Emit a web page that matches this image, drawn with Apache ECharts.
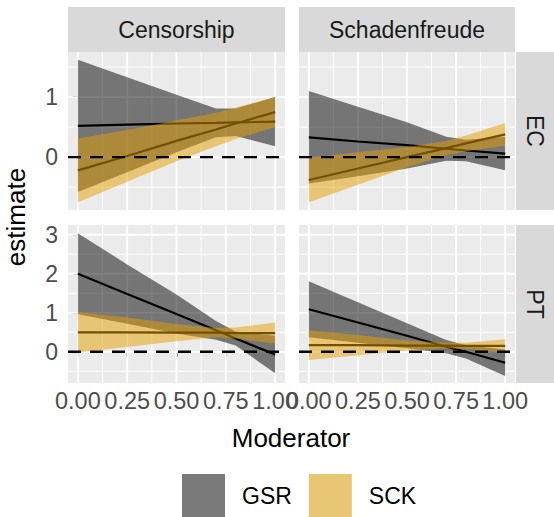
<!DOCTYPE html>
<html><head><meta charset="utf-8">
<script src="https://cdn.jsdelivr.net/npm/echarts@6/dist/echarts.min.js"></script>
<style>html,body{margin:0;padding:0;background:#fff}#c{width:554px;height:517px}</style>
</head><body><div id="c"></div>
<script>
// ---------------- DATA ----------------
const facetCols = ['Censorship', 'Schadenfreude'];
const facetRows = ['EC', 'PT'];
const groups = ['GSR', 'SCK'];
const xLabel = 'Moderator';
const yLabel = 'estimate';

const moderator = [0, 0.25, 0.5, 0.7, 0.8, 1];

// Censorship / EC
const cenEC_GSR_est = [0.52, 0.54, 0.56, 0.57, 0.58, 0.59];
const cenEC_GSR_lo  = [-0.58, -0.25, 0.08, 0.33, 0.35, 0.18];
const cenEC_GSR_hi  = [1.62, 1.33, 1.04, 0.81, 0.81, 1.00];
const cenEC_SCK_est = [-0.22, 0.02, 0.27, 0.46, 0.56, 0.75];
const cenEC_SCK_lo  = [-0.75, -0.41, -0.07, 0.18, 0.30, 0.50];
const cenEC_SCK_hi  = [0.31, 0.45, 0.61, 0.74, 0.82, 1.00];
// Schadenfreude / EC
const schEC_GSR_est = [0.33, 0.26, 0.20, 0.14, 0.11, 0.06];
const schEC_GSR_lo  = [-0.44, -0.32, -0.19, -0.06, -0.07, -0.22];
const schEC_GSR_hi  = [1.10, 0.84, 0.58, 0.34, 0.29, 0.34];
const schEC_SCK_est = [-0.38, -0.19, 0.00, 0.15, 0.23, 0.38];
const schEC_SCK_lo  = [-0.75, -0.46, -0.17, 0.03, 0.10, 0.19];
const schEC_SCK_hi  = [-0.01, 0.08, 0.17, 0.27, 0.36, 0.57];
// Censorship / PT
const cenPT_GSR_est = [2.00, 1.48, 0.97, 0.55, 0.34, -0.07];
const cenPT_GSR_lo  = [0.96, 0.72, 0.47, 0.31, 0.16, -0.55];
const cenPT_GSR_hi  = [3.04, 2.24, 1.47, 0.79, 0.52, 0.41];
const cenPT_SCK_est = [0.50, 0.50, 0.49, 0.49, 0.48, 0.48];
const cenPT_SCK_lo  = [-0.02, 0.12, 0.27, 0.37, 0.34, 0.21];
const cenPT_SCK_hi  = [1.02, 0.88, 0.71, 0.61, 0.62, 0.75];
// Schadenfreude / PT
const schPT_GSR_est = [1.09, 0.75, 0.41, 0.13, 0.00, -0.28];
const schPT_GSR_lo  = [0.37, 0.23, 0.09, -0.04, -0.17, -0.62];
const schPT_GSR_hi  = [1.81, 1.27, 0.73, 0.30, 0.17, 0.06];
const schPT_SCK_est = [0.17, 0.17, 0.16, 0.16, 0.15, 0.15];
const schPT_SCK_lo  = [-0.21, -0.09, 0.03, 0.09, 0.07, -0.02];
const schPT_SCK_hi  = [0.55, 0.43, 0.29, 0.23, 0.23, 0.32];

const referenceY = 0;

const xTicks = [0, 0.25, 0.5, 0.75, 1];
const xMinor = [0.125, 0.375, 0.625, 0.875];
const yTicksEC = [0, 1];
const yMinorEC = [-0.5, 0.5, 1.5];
const yTicksPT = [0, 1, 2, 3];
const yMinorPT = [-0.5, 0.5, 1.5, 2.5];

// ---------------- LAYOUT / STYLE ----------------
const FONT = "'Liberation Sans', Arial, sans-serif";
const grids = [
  {left: 68, top: 52, width: 217, height: 158},
  {left: 299, top: 52, width: 216, height: 158},
  {left: 68, top: 225, width: 217, height: 158},
  {left: 299, top: 225, width: 216, height: 158}
];
const xRange = [-0.05, 1.05];
const yRangeEC = [-0.88, 1.75];
const yRangePT = [-0.80, 3.25];
const GRAY_FILL = 'rgba(0,0,0,0.5)';
const GOLD_FILL = 'rgba(230,159,0,0.5)';

const panels = [
  {g: 0, yr: yRangeEC, ym: yTicksEC, yn: yMinorEC,
   GSR: [cenEC_GSR_est, cenEC_GSR_lo, cenEC_GSR_hi], SCK: [cenEC_SCK_est, cenEC_SCK_lo, cenEC_SCK_hi]},
  {g: 1, yr: yRangeEC, ym: yTicksEC, yn: yMinorEC,
   GSR: [schEC_GSR_est, schEC_GSR_lo, schEC_GSR_hi], SCK: [schEC_SCK_est, schEC_SCK_lo, schEC_SCK_hi]},
  {g: 2, yr: yRangePT, ym: yTicksPT, yn: yMinorPT,
   GSR: [cenPT_GSR_est, cenPT_GSR_lo, cenPT_GSR_hi], SCK: [cenPT_SCK_est, cenPT_SCK_lo, cenPT_SCK_hi]},
  {g: 3, yr: yRangePT, ym: yTicksPT, yn: yMinorPT,
   GSR: [schPT_GSR_est, schPT_GSR_lo, schPT_GSR_hi], SCK: [schPT_SCK_est, schPT_SCK_lo, schPT_SCK_hi]}
];

const xAxes = [], yAxes = [], series = [];
panels.forEach(function (p) {
  const i = p.g;
  const bottom = i >= 2, left = (i % 2) === 0;
  xAxes.push({
    type: 'value', gridIndex: i, min: xRange[0], max: xRange[1],
    axisLine: {show: false}, splitLine: {show: false},
    axisTick: {show: bottom, customValues: xTicks, length: 5, lineStyle: {color: '#333', width: 1.6}},
    axisLabel: {show: bottom, customValues: xTicks, margin: 6, color: '#4d4d4d', fontSize: 23.5, fontFamily: FONT,
      hideOverlap: false, formatter: function (v) { return v.toFixed(2); }}
  });
  yAxes.push({
    type: 'value', gridIndex: i, min: p.yr[0], max: p.yr[1],
    axisLine: {show: false}, splitLine: {show: false},
    axisTick: {show: left, customValues: p.ym, length: 5, lineStyle: {color: '#333', width: 1.6}},
    axisLabel: {show: left, customValues: p.ym, margin: 10, color: '#4d4d4d', fontSize: 23, fontFamily: FONT}
  });
  // grid lines
  series.push({
    type: 'custom', xAxisIndex: i, yAxisIndex: i, silent: true, z: 1,
    data: [[0, 0]],
    renderItem: function (params, api) {
      const ch = [];
      function vline(x, w) {
        const a = api.coord([x, p.yr[0]]), b = api.coord([x, p.yr[1]]);
        ch.push({type: 'line', shape: {x1: a[0], y1: a[1], x2: b[0], y2: b[1]}, style: {stroke: '#fff', lineWidth: w}});
      }
      function hline(y, w) {
        const a = api.coord([xRange[0], y]), b = api.coord([xRange[1], y]);
        ch.push({type: 'line', shape: {x1: a[0], y1: a[1], x2: b[0], y2: b[1]}, style: {stroke: '#fff', lineWidth: w}});
      }
      xMinor.forEach(function (v) { vline(v, 0.9); });
      p.yn.forEach(function (v) { hline(v, 0.9); });
      xTicks.forEach(function (v) { vline(v, 1.8); });
      p.ym.forEach(function (v) { hline(v, 1.8); });
      return {type: 'group', children: ch};
    }
  });
  // ribbons
  [['GSR', GRAY_FILL, 2], ['SCK', GOLD_FILL, 4]].forEach(function (gd) {
    const d = p[gd[0]];
    series.push({
      name: gd[0], type: 'custom', xAxisIndex: i, yAxisIndex: i, silent: true, z: gd[2],
      itemStyle: {color: gd[1]},
      data: moderator.map(function (x, k) { return [x, d[1][k], d[2][k]]; }),
      renderItem: function (params, api) {
        if (params.dataIndex !== 0) return;
        const pts = [];
        moderator.forEach(function (x, k) { pts.push(api.coord([x, d[2][k]])); });
        for (let k = moderator.length - 1; k >= 0; k--) pts.push(api.coord([moderator[k], d[1][k]]));
        return {type: 'polygon', shape: {points: pts}, style: {fill: gd[1]}};
      }
    });
    series.push({
      name: gd[0] + ' fit', type: 'line', xAxisIndex: i, yAxisIndex: i, silent: true, z: 3,
      symbol: 'none', lineStyle: {color: '#000', width: 2.2},
      data: moderator.map(function (x, k) { return [x, d[0][k]]; })
    });
  });
  // reference line
  series.push({
    type: 'custom', xAxisIndex: i, yAxisIndex: i, silent: true, z: 6,
    data: [[0, referenceY]],
    renderItem: function (params, api) {
      const a = api.coord([xRange[0], referenceY]), b = api.coord([xRange[1], referenceY]);
      return {type: 'line', shape: {x1: a[0], y1: a[1], x2: b[0], y2: b[1]},
        style: {stroke: '#000', lineWidth: 2.4, lineDash: [13, 9]}};
    }
  });
});

const graphics = [];
// top strips
[0, 1].forEach(function (c) {
  const g = grids[c];
  graphics.push({type: 'rect', shape: {x: g.left, y: 7, width: g.width, height: 45}, style: {fill: '#d9d9d9'}, silent: true});
  graphics.push({type: 'text', x: g.left + g.width / 2, y: 30,
    style: {text: facetCols[c], fill: '#1a1a1a', font: '23px ' + FONT, align: 'center', verticalAlign: 'middle'}});
});
// right strips
[0, 1].forEach(function (r) {
  const g = grids[r * 2 + 1];
  graphics.push({type: 'rect', shape: {x: 516, y: g.top, width: 40, height: g.height}, style: {fill: '#d9d9d9'}, silent: true});
  graphics.push({type: 'text', x: 535, y: g.top + g.height / 2, rotation: -Math.PI / 2,
    style: {text: facetRows[r], fill: '#1a1a1a', font: '23px ' + FONT, align: 'center', verticalAlign: 'middle'}});
});
// axis titles
graphics.push({type: 'text', x: 291, y: 438,
  style: {text: xLabel, fill: '#000', font: '26px ' + FONT, align: 'center', verticalAlign: 'middle'}});
graphics.push({type: 'text', x: 16, y: 217, rotation: Math.PI / 2,
  style: {text: yLabel, fill: '#000', font: '26px ' + FONT, align: 'center', verticalAlign: 'middle'}});

const chart = echarts.init(document.getElementById('c'), null, {renderer: 'svg'});
chart.setOption({
  animation: false,
  backgroundColor: '#fff',
  grid: grids.map(function (g) {
    return Object.assign({show: true, backgroundColor: '#ebebeb', borderWidth: 0}, g);
  }),
  xAxis: xAxes,
  yAxis: yAxes,
  legend: {
    left: 182, top: 474, padding: 0, itemWidth: 43, itemHeight: 44, itemGap: 17, icon: 'rect',
    selectedMode: false,
    textStyle: {fontSize: 23, fontFamily: FONT, color: '#000', padding: [0, 0, 0, 12]},
    data: [
      {name: groups[0], itemStyle: {color: '#7a7a7a', opacity: 1}},
      {name: groups[1], itemStyle: {color: '#e8c673', opacity: 1}}
    ]
  },
  graphic: graphics,
  series: series
});
</script>
</body></html>
